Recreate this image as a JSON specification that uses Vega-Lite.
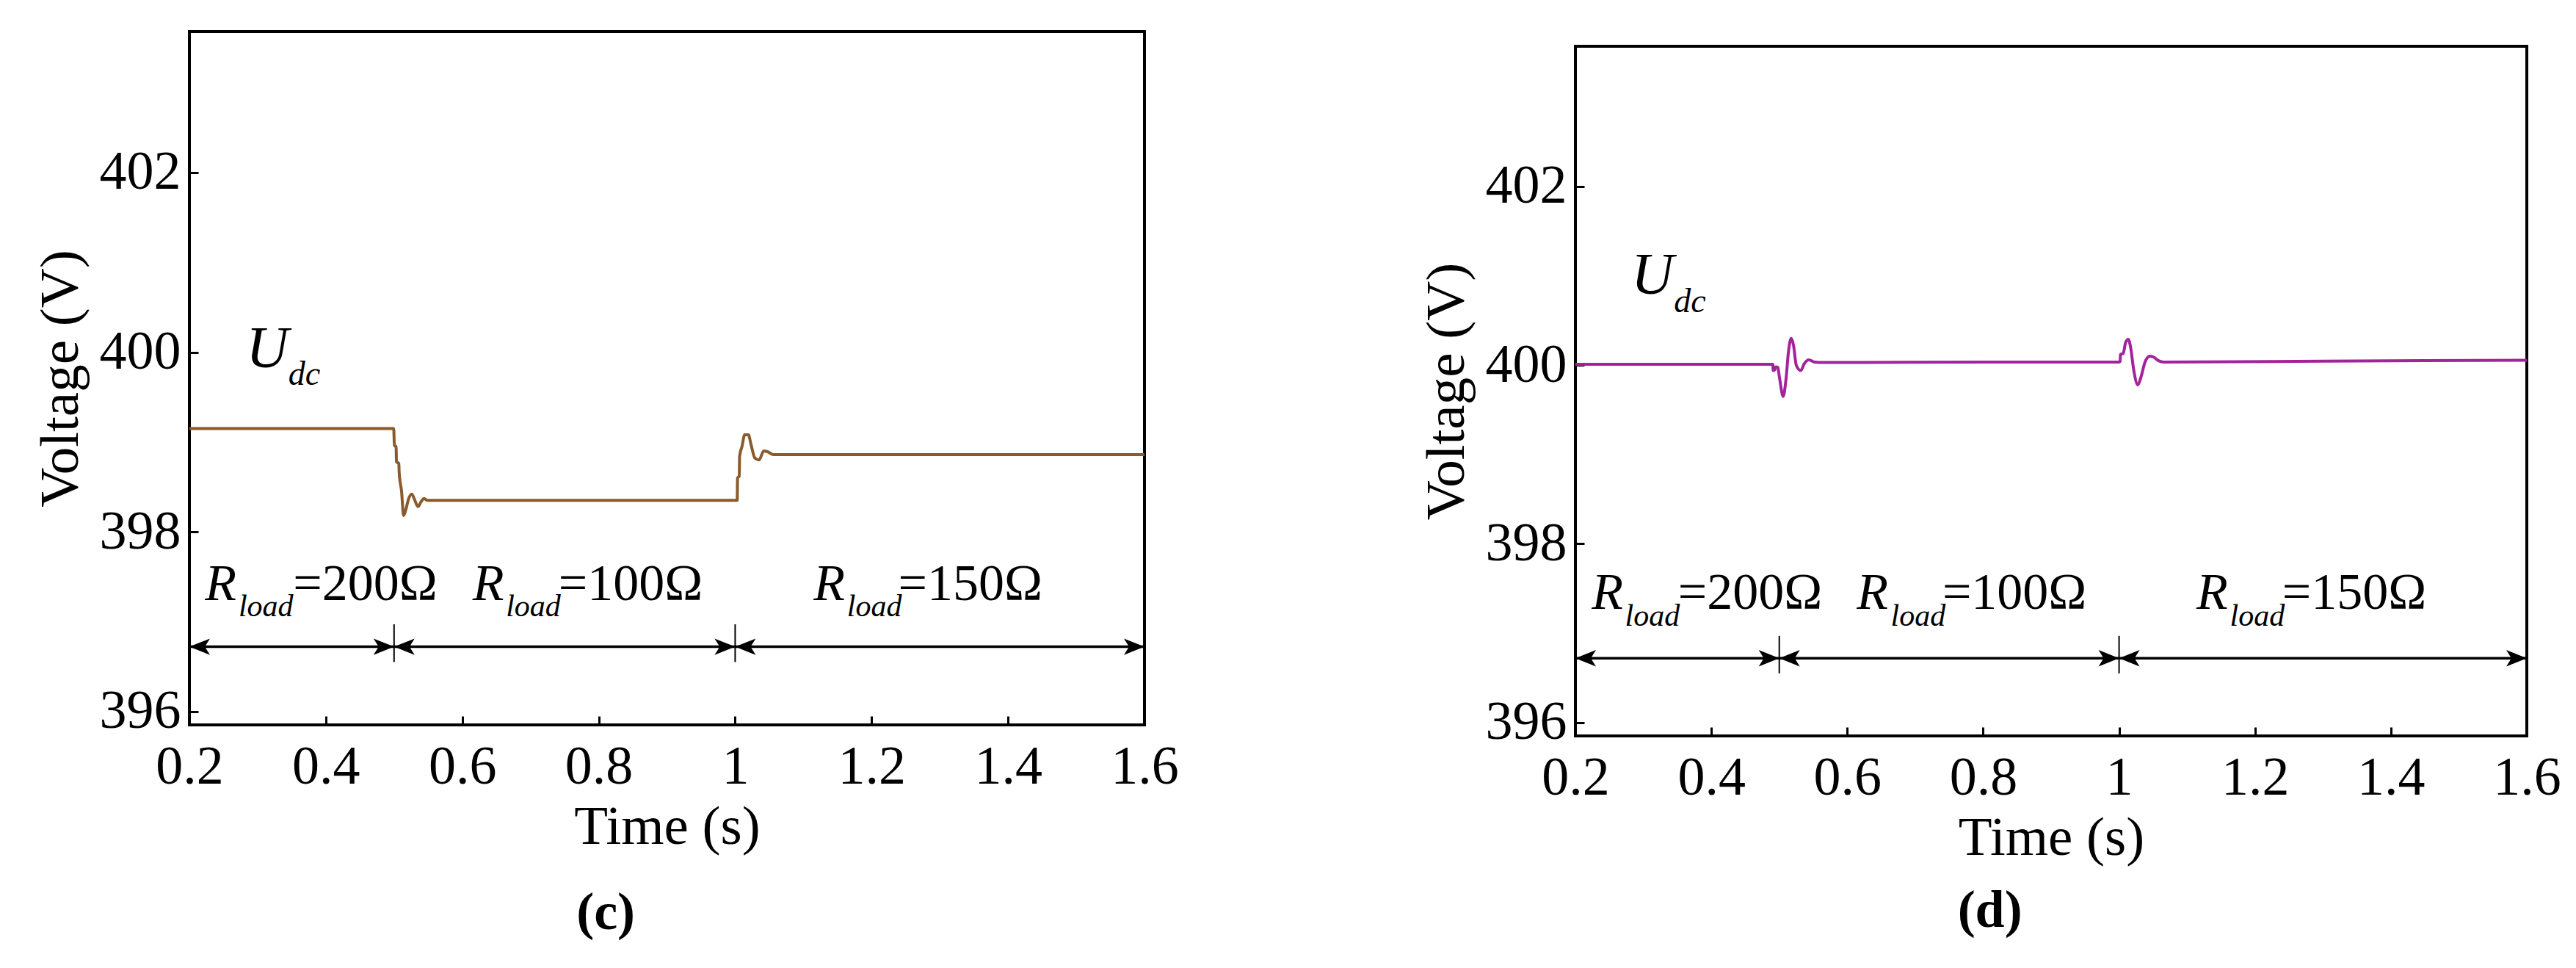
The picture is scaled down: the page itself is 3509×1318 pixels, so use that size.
{
  "$schema": "https://vega.github.io/schema/vega-lite/v6.json",
  "padding": {"left": 43, "top": 41, "right": 5, "bottom": 5},
  "background": "white",
  "config": {
    "font": "Liberation Serif",
    "view": {"stroke": "black", "strokeWidth": 4},
    "axis": {"grid": false, "domain": false, "ticks": true, "tickColor": "black", "tickWidth": 3, "tickSize": -12,
      "labelFont": "Liberation Serif", "labelFontSize": 74, "labelColor": "black", "labelOverlap": false, "labelFlush": false,
      "titleFont": "Liberation Serif", "titleFontSize": 75, "titleFontWeight": "normal", "titleColor": "black"},
    "axisX": {"labelPadding": 33, "titlePadding": 8},
    "axisY": {"labelPadding": 24, "titlePadding": 14},
    "title": {"font": "Liberation Serif", "fontSize": 72, "color": "black"}
  },
  "datasets": {
    "c_line": [
      {"t": 0.2, "v": 399.15}, {"t": 0.3, "v": 399.15}, {"t": 0.4, "v": 399.15}, {"t": 0.4995, "v": 399.15},
      {"t": 0.5005, "v": 398.96}, {"t": 0.503, "v": 398.95}, {"t": 0.5035, "v": 398.78}, {"t": 0.507, "v": 398.76},
      {"t": 0.5075, "v": 398.66}, {"t": 0.511, "v": 398.45}, {"t": 0.514, "v": 398.18}, {"t": 0.517, "v": 398.24},
      {"t": 0.521, "v": 398.36}, {"t": 0.526, "v": 398.42}, {"t": 0.53, "v": 398.36}, {"t": 0.535, "v": 398.28},
      {"t": 0.54, "v": 398.34}, {"t": 0.544, "v": 398.37}, {"t": 0.549, "v": 398.35}, {"t": 0.6, "v": 398.35},
      {"t": 0.8, "v": 398.35}, {"t": 1.0, "v": 398.35}, {"t": 1.003, "v": 398.35}, {"t": 1.0035, "v": 398.6},
      {"t": 1.006, "v": 398.62}, {"t": 1.0065, "v": 398.84}, {"t": 1.01, "v": 398.95}, {"t": 1.014, "v": 399.08},
      {"t": 1.0195, "v": 399.08}, {"t": 1.023, "v": 398.98}, {"t": 1.029, "v": 398.82}, {"t": 1.035, "v": 398.8},
      {"t": 1.042, "v": 398.9}, {"t": 1.048, "v": 398.89}, {"t": 1.056, "v": 398.86}, {"t": 1.2, "v": 398.86},
      {"t": 1.4, "v": 398.86}, {"t": 1.6, "v": 398.86}
    ],
    "d_line": [
      {"t": 0.2, "v": 400.01}, {"t": 0.4, "v": 400.01}, {"t": 0.4905, "v": 400.01}, {"t": 0.491, "v": 399.94},
      {"t": 0.4935, "v": 399.95}, {"t": 0.494, "v": 399.98}, {"t": 0.4975, "v": 399.98}, {"t": 0.5005, "v": 399.85},
      {"t": 0.5057, "v": 399.65}, {"t": 0.51, "v": 399.85}, {"t": 0.5135, "v": 400.15}, {"t": 0.5176, "v": 400.3},
      {"t": 0.521, "v": 400.22}, {"t": 0.525, "v": 400.0}, {"t": 0.5316, "v": 399.94}, {"t": 0.537, "v": 400.02},
      {"t": 0.5435, "v": 400.06}, {"t": 0.552, "v": 400.035}, {"t": 0.564, "v": 400.03}, {"t": 0.8, "v": 400.035},
      {"t": 1.0, "v": 400.035}, {"t": 1.0015, "v": 400.04}, {"t": 1.002, "v": 400.12}, {"t": 1.006, "v": 400.13},
      {"t": 1.0095, "v": 400.25}, {"t": 1.0135, "v": 400.29}, {"t": 1.017, "v": 400.2}, {"t": 1.0215, "v": 399.95},
      {"t": 1.0275, "v": 399.78}, {"t": 1.032, "v": 399.86}, {"t": 1.038, "v": 400.03}, {"t": 1.045, "v": 400.1},
      {"t": 1.051, "v": 400.09}, {"t": 1.058, "v": 400.05}, {"t": 1.066, "v": 400.035}, {"t": 1.3, "v": 400.045},
      {"t": 1.6, "v": 400.055}
    ],
    "arrows": [
      {"t": 0.2, "t1": 0.5, "v": 396.72}, {"t": 0.5, "t1": 1.0, "v": 396.72}, {"t": 1.0, "t1": 1.6, "v": 396.72}
    ],
    "heads": [
      {"t": 0.2, "v": 396.72, "dir": "L"}, {"t": 0.5, "v": 396.72, "dir": "R"}, {"t": 0.5, "v": 396.72, "dir": "L"},
      {"t": 1.0, "v": 396.72, "dir": "R"}, {"t": 1.0, "v": 396.72, "dir": "L"}, {"t": 1.6, "v": 396.72, "dir": "R"}
    ],
    "dividers": [
      {"t": 0.5, "v": 396.55, "v1": 396.97}, {"t": 1.0, "v": 396.55, "v1": 396.97}
    ],
    "labels": [
      {"panel": "c", "part": "R", "t": 0.223, "v": 397.24, "text": "R"},
      {"panel": "c", "part": "sub", "t": 0.272, "v": 397.06, "text": "load"},
      {"panel": "c", "part": "eq", "t": 0.352, "v": 397.24, "text": "=200Ω"},
      {"panel": "c", "part": "R", "t": 0.615, "v": 397.24, "text": "R"},
      {"panel": "c", "part": "sub", "t": 0.664, "v": 397.06, "text": "load"},
      {"panel": "c", "part": "eq", "t": 0.741, "v": 397.24, "text": "=100Ω"},
      {"panel": "c", "part": "R", "t": 1.115, "v": 397.24, "text": "R"},
      {"panel": "c", "part": "sub", "t": 1.164, "v": 397.06, "text": "load"},
      {"panel": "c", "part": "eq", "t": 1.239, "v": 397.24, "text": "=150Ω"},
      {"panel": "c", "part": "U", "t": 0.283, "v": 399.83, "text": "U"},
      {"panel": "c", "part": "dc", "t": 0.345, "v": 399.64, "text": "dc"},
      {"panel": "d", "part": "R", "t": 0.224, "v": 397.27, "text": "R"},
      {"panel": "d", "part": "sub", "t": 0.273, "v": 397.08, "text": "load"},
      {"panel": "d", "part": "eq", "t": 0.351, "v": 397.27, "text": "=200Ω"},
      {"panel": "d", "part": "R", "t": 0.614, "v": 397.27, "text": "R"},
      {"panel": "d", "part": "sub", "t": 0.664, "v": 397.08, "text": "load"},
      {"panel": "d", "part": "eq", "t": 0.74, "v": 397.27, "text": "=100Ω"},
      {"panel": "d", "part": "R", "t": 1.114, "v": 397.27, "text": "R"},
      {"panel": "d", "part": "sub", "t": 1.163, "v": 397.08, "text": "load"},
      {"panel": "d", "part": "eq", "t": 1.24, "v": 397.27, "text": "=150Ω"},
      {"panel": "d", "part": "U", "t": 0.282, "v": 400.8, "text": "U"},
      {"panel": "d", "part": "dc", "t": 0.345, "v": 400.59, "text": "dc"}
    ],
    "spacer": [{"k": 1}]
  },
  "spacing": 323,
  "hconcat": [
    {
      "width": 1301, "height": 944,
      "title": {"text": "(c)", "orient": "bottom", "anchor": "middle", "frame": "bounds", "fontWeight": "bold", "offset": 45},
      "encoding": {
        "x": {"field": "t", "type": "quantitative", "scale": {"domain": [0.2, 1.6], "nice": false, "zero": false},
          "axis": {"title": "Time (s)", "values": [0.2, 0.4, 0.6, 0.8, 1, 1.2, 1.4, 1.6], "format": "~g"}},
        "y": {"field": "v", "type": "quantitative", "scale": {"domain": [395.85, 403.57], "nice": false, "zero": false},
          "axis": {"title": "Voltage (V)", "values": [396, 398, 400, 402]}}
      },
      "layer": [
        {"data": {"name": "c_line"}, "mark": {"type": "line", "color": "#8a5a2b", "strokeWidth": 4, "interpolate": "monotone"}},
        {"data": {"name": "arrows"}, "mark": {"type": "rule", "color": "black", "strokeWidth": 3.5}, "encoding": {"x2": {"field": "t1"}}},
        {"data": {"name": "dividers"}, "mark": {"type": "rule", "color": "black", "strokeWidth": 2}, "encoding": {"y2": {"field": "v1"}}},
        {"data": {"name": "heads"}, "mark": {"type": "point", "filled": true, "opacity": 1, "color": "black", "size": 3136, "strokeWidth": 0},
          "encoding": {"shape": {"field": "dir", "type": "nominal", "legend": null,
            "scale": {"domain": ["L", "R"], "range": ["M0,0L1,-0.4L0.75,0L1,0.4Z", "M0,0L-1,-0.4L-0.75,0L-1,0.4Z"]}}}},
        {"data": {"name": "labels"}, "transform": [{"filter": "datum.panel === 'c' && datum.part === 'R'"}],
          "mark": {"type": "text", "fontStyle": "italic", "fontSize": 70, "align": "left", "baseline": "alphabetic", "color": "black"},
          "encoding": {"text": {"field": "text"}}},
        {"data": {"name": "labels"}, "transform": [{"filter": "datum.panel === 'c' && datum.part === 'sub'"}],
          "mark": {"type": "text", "fontStyle": "italic", "fontSize": 42, "align": "left", "baseline": "alphabetic", "color": "black"},
          "encoding": {"text": {"field": "text"}}},
        {"data": {"name": "labels"}, "transform": [{"filter": "datum.panel === 'c' && datum.part === 'eq'"}],
          "mark": {"type": "text", "fontSize": 70, "align": "left", "baseline": "alphabetic", "color": "black"},
          "encoding": {"text": {"field": "text"}}},
        {"data": {"name": "labels"}, "transform": [{"filter": "datum.panel === 'c' && datum.part === 'U'"}],
          "mark": {"type": "text", "fontStyle": "italic", "fontSize": 80, "align": "left", "baseline": "alphabetic", "color": "black"},
          "encoding": {"text": {"field": "text"}}},
        {"data": {"name": "labels"}, "transform": [{"filter": "datum.panel === 'c' && datum.part === 'dc'"}],
          "mark": {"type": "text", "fontStyle": "italic", "fontSize": 46, "align": "left", "baseline": "alphabetic", "color": "black"},
          "encoding": {"text": {"field": "text"}}}
      ]
    },
    {
      "spacing": 0,
      "vconcat": [
        {"width": 1296, "height": 18, "data": {"name": "spacer"}, "view": {"stroke": null},
          "mark": {"type": "text", "text": ""}, "encoding": {}},
        {
          "width": 1296, "height": 939,
          "title": {"text": "(d)", "orient": "bottom", "anchor": "middle", "frame": "bounds", "fontWeight": "bold", "offset": 27},
          "encoding": {
            "x": {"field": "t", "type": "quantitative", "scale": {"domain": [0.2, 1.6], "nice": false, "zero": false},
              "axis": {"title": "Time (s)", "values": [0.2, 0.4, 0.6, 0.8, 1, 1.2, 1.4, 1.6], "format": "~g"}},
            "y": {"field": "v", "type": "quantitative", "scale": {"domain": [395.85, 403.57], "nice": false, "zero": false},
              "axis": {"title": "Voltage (V)", "values": [396, 398, 400, 402]}}
          },
          "layer": [
            {"data": {"name": "d_line"}, "mark": {"type": "line", "color": "#a3239a", "strokeWidth": 4, "interpolate": "monotone"}},
            {"data": {"name": "arrows"}, "mark": {"type": "rule", "color": "black", "strokeWidth": 3.5}, "encoding": {"x2": {"field": "t1"}}},
            {"data": {"name": "dividers"}, "mark": {"type": "rule", "color": "black", "strokeWidth": 2}, "encoding": {"y2": {"field": "v1"}}},
            {"data": {"name": "heads"}, "mark": {"type": "point", "filled": true, "opacity": 1, "color": "black", "size": 3136, "strokeWidth": 0},
              "encoding": {"shape": {"field": "dir", "type": "nominal", "legend": null,
                "scale": {"domain": ["L", "R"], "range": ["M0,0L1,-0.4L0.75,0L1,0.4Z", "M0,0L-1,-0.4L-0.75,0L-1,0.4Z"]}}}},
            {"data": {"name": "labels"}, "transform": [{"filter": "datum.panel === 'd' && datum.part === 'R'"}],
              "mark": {"type": "text", "fontStyle": "italic", "fontSize": 70, "align": "left", "baseline": "alphabetic", "color": "black"},
              "encoding": {"text": {"field": "text"}}},
            {"data": {"name": "labels"}, "transform": [{"filter": "datum.panel === 'd' && datum.part === 'sub'"}],
              "mark": {"type": "text", "fontStyle": "italic", "fontSize": 42, "align": "left", "baseline": "alphabetic", "color": "black"},
              "encoding": {"text": {"field": "text"}}},
            {"data": {"name": "labels"}, "transform": [{"filter": "datum.panel === 'd' && datum.part === 'eq'"}],
              "mark": {"type": "text", "fontSize": 70, "align": "left", "baseline": "alphabetic", "color": "black"},
              "encoding": {"text": {"field": "text"}}},
            {"data": {"name": "labels"}, "transform": [{"filter": "datum.panel === 'd' && datum.part === 'U'"}],
              "mark": {"type": "text", "fontStyle": "italic", "fontSize": 80, "align": "left", "baseline": "alphabetic", "color": "black"},
              "encoding": {"text": {"field": "text"}}},
            {"data": {"name": "labels"}, "transform": [{"filter": "datum.panel === 'd' && datum.part === 'dc'"}],
              "mark": {"type": "text", "fontStyle": "italic", "fontSize": 46, "align": "left", "baseline": "alphabetic", "color": "black"},
              "encoding": {"text": {"field": "text"}}}
          ]
        }
      ]
    }
  ]
}
